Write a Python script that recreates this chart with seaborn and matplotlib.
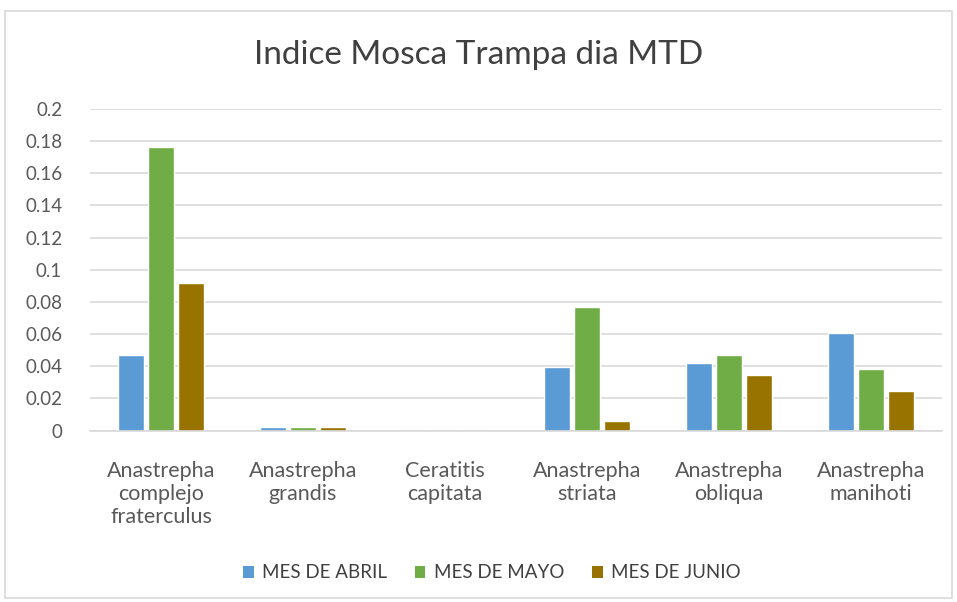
import matplotlib
matplotlib.use("Agg")
import matplotlib.pyplot as plt
import seaborn as sns
import pandas as pd
from matplotlib.patches import Rectangle, Patch

categories = ["Anastrepha\ncomplejo\nfraterculus", "Anastrepha\ngrandis", "Ceratitis\ncapitata",
              "Anastrepha\nstriata", "Anastrepha\nobliqua", "Anastrepha\nmanihoti"]
series = ["MES DE ABRIL", "MES DE MAYO", "MES DE JUNIO"]
abril = [0.047, 0.002, 0.0, 0.0394, 0.0422, 0.0607]
mayo = [0.1762, 0.002, 0.0, 0.0767, 0.0472, 0.0382]
junio = [0.0917, 0.002, 0.0, 0.006, 0.0347, 0.0247]
yticks = [0, 0.02, 0.04, 0.06, 0.08, 0.1, 0.12, 0.14, 0.16, 0.18, 0.2]
ytick_labels = ["0", "0.02", "0.04", "0.06", "0.08", "0.1", "0.12", "0.14", "0.16", "0.18", "0.2"]
colors = ["#5B9BD5", "#70AD47", "#997300"]

rows = []
for s, vals in zip(series, [abril, mayo, junio]):
    for c, v in zip(categories, vals):
        rows.append({"cat": c, "serie": s, "val": v})
df = pd.DataFrame(rows)

sns.set_style("white")
plt.rcParams["font.family"] = ["Lato", "DejaVu Sans"]

fig = plt.figure(figsize=(9.57, 6.02), dpi=100)
ax = fig.add_axes([90/957, 1 - 430.5/602, 852/957, (430.5 - 109)/602])

sns.barplot(data=df, x="cat", y="val", hue="serie", order=categories, hue_order=series,
            palette=colors, width=0.63, gap=0.14, ax=ax, legend=False, saturation=1)

ax.set_ylim(0, 0.2)
ax.set_xlim(-0.5, len(categories) - 0.5)
ax.set_yticks(yticks)
ax.set_yticklabels(ytick_labels)
ax.yaxis.grid(True, color="#D9D9D9", linewidth=1.2)
ax.set_axisbelow(True)
for sp in ["top", "right", "left"]:
    ax.spines[sp].set_visible(False)
ax.spines["bottom"].set_color("#D9D9D9")
ax.spines["bottom"].set_linewidth(1.2)
ax.tick_params(axis="both", length=0, labelcolor="#595959")
ax.tick_params(axis="y", pad=20, labelsize=13.5)
ax.tick_params(axis="x", pad=22, labelsize=15.5)
for t in ax.get_yticklabels():
    t.set_horizontalalignment("right")
for t in ax.get_xticklabels():
    t.set_linespacing(1.2)
ax.set_xlabel("")
ax.set_ylabel("")

fig.text(0.5, 1 - 55/602, "Indice Mosca Trampa dia MTD", ha="center", va="center",
         fontsize=24, color="#404040")

handles = [Patch(facecolor=c, edgecolor="none") for c in colors]
fig.legend(handles, series, loc="center", bbox_to_anchor=(492/957, 1 - 573/602), ncol=3,
           frameon=False, fontsize=13.5, labelcolor="#404040", handlelength=0.55,
           handleheight=0.55, columnspacing=1.5, handletextpad=0.45)

fig.patches.append(Rectangle((5/957, 1 - 598/602), 947/957, 587/602, transform=fig.transFigure,
                             fill=False, edgecolor="#D9D9D9", linewidth=1.2))

fig.savefig("out.png", dpi=100)
